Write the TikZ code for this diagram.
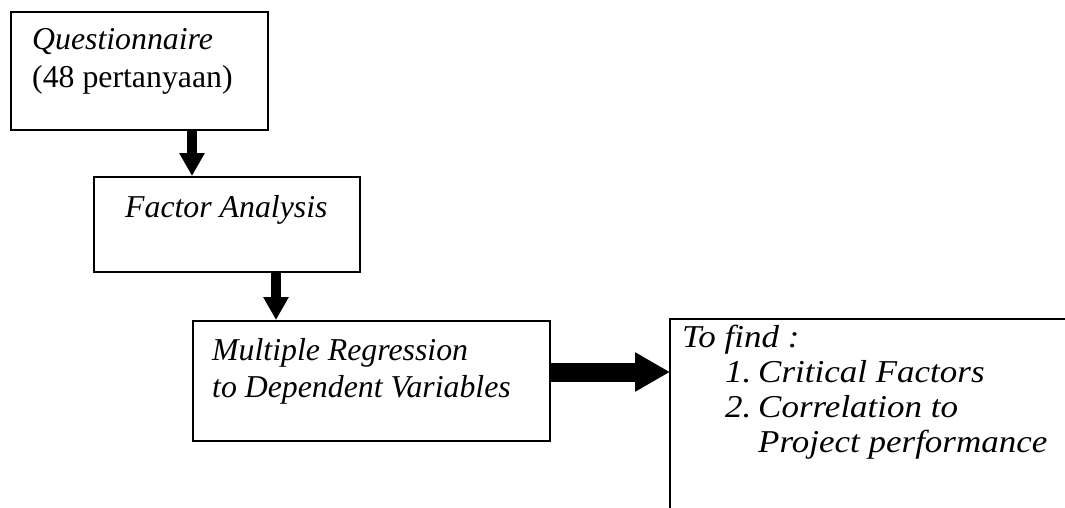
\documentclass[tikz,border=0pt]{standalone}
\usepackage{fontspec}
\setmainfont{Liberation Serif}
\usetikzlibrary{arrows.meta}
\begin{document}
\begin{tikzpicture}[x=1pt,y=-1pt,
  box/.style={draw, line width=1.8pt, minimum width=#1, anchor=north west, inner sep=0pt},
  txt/.style={anchor=base west, inner sep=0pt, font=\fontsize{31.8}{37}\selectfont},
  wtxt/.style={txt, xscale=1.1, transform shape},
  down/.style={line width=10pt, -{Triangle[length=23pt,width=24pt]}},
  right/.style={line width=19pt, -{Triangle[length=35pt,width=37pt]}}]
\useasboundingbox (0,0) rectangle (1065,508);
% boxes
\node[box=257pt, minimum height=118pt] (b1) at (10,11) {};
\node[box=266pt, minimum height=95pt] (b2) at (93,176) {};
\node[box=357pt, minimum height=120pt] (b3) at (192,320) {};
\node[anchor=north west, inner sep=0pt, minimum width=400pt, minimum height=195pt] (b4) at (670,319) {};
\draw[line width=1.8pt] (b4.south west) -- (b4.north west) -- (b4.north east);
% texts
\node[txt] (t1) at (32,50) {\itshape Questionnaire};
\node[txt] (t2) at (32,88) {(48 pertanyaan)};
\node[txt] (t3) at (125,217) {\itshape Factor Analysis};
\node[txt] (t4) at (212,360) {\itshape Multiple Regression};
\node[txt] (t5) at (212,397) {\itshape to Dependent Variables};
\node[wtxt] (t6) at (682,347) {\itshape To find :};
\node[wtxt] (n1) at (725,382) {\itshape 1.};
\node[wtxt] (t7) at (758,382) {\itshape Critical Factors};
\node[wtxt] (n2) at (725,417) {\itshape 2.};
\node[wtxt] (t8) at (758,417) {\itshape Correlation to};
\node[wtxt] (t9) at (758,452) {\itshape Project performance};
% connectors
\coordinate (c1) at (192,0);
\coordinate (c2) at (276,0);
\coordinate (c3) at (0,372);
\draw[down] (b1.south -| c1) -- (b2.north -| c1);
\draw[down] (b2.south -| c2) -- (b3.north -| c2);
\draw[right] (b3.east |- c3) -- (b4.west |- c3);
\end{tikzpicture}
\end{document}
